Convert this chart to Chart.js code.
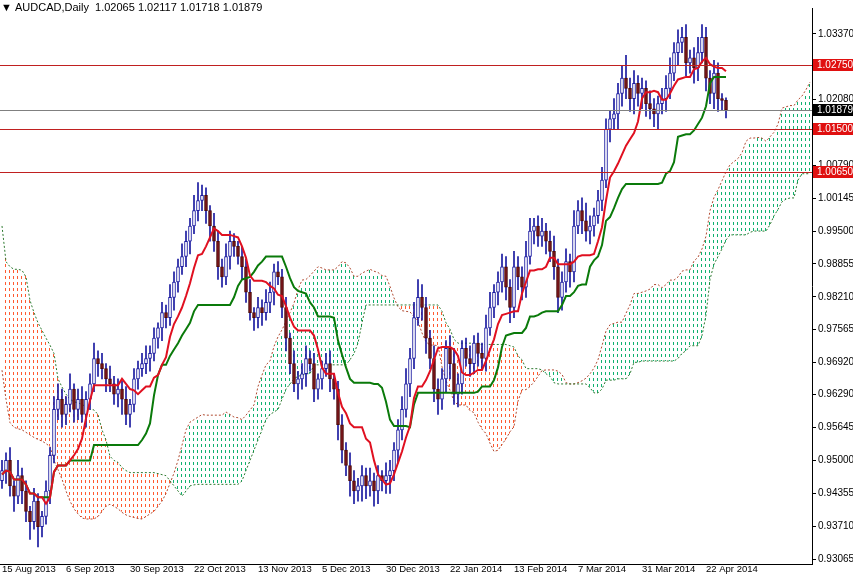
<!DOCTYPE html>
<html lang="en">
<head>
<meta charset="UTF-8">
<title>AUDCAD Daily</title>
<script src="https://cdn.jsdelivr.net/npm/chart.js@4"></script>
<style>
  html, body { margin: 0; padding: 0; background: #fff; }
  #wrap { width: 853px; height: 578px; }
</style>
</head>
<body>
<div id="wrap"><canvas id="chart"></canvas></div>
<script>
// daily closes, AUDCAD, 15 Aug 2013 .. end Apr 2014
var closes = [
  0.9480,0.9500,0.9450,0.9430,0.9470, 0.9440,0.9400,0.9380,0.9420,0.9370,
  0.9390,0.9440,0.9510,0.9600,0.9620, 0.9590,0.9610,0.9640,0.9600,0.9620,
  0.9590,0.9620,0.9650,0.9700,0.9690, 0.9680,0.9660,0.9650,0.9630,0.9640,
  0.9620,0.9590,0.9610,0.9660,0.9680, 0.9690,0.9700,0.9710,0.9740,0.9760,
  0.9790,0.9780,0.9820,0.9850,0.9880, 0.9900,0.9930,0.9960,0.9990,1.0010,
  1.0020,0.9990,0.9960,0.9930,0.9880, 0.9860,0.9900,0.9930,0.9920,0.9900,
  0.9880,0.9830,0.9790,0.9780,0.9800, 0.9790,0.9810,0.9830,0.9870,0.9860,
  0.9800,0.9740,0.9690,0.9650,0.9660, 0.9670,0.9700,0.9690,0.9640,0.9660,
  0.9680,0.9690,0.9660,0.9640,0.9570, 0.9520,0.9490,0.9460,0.9440,0.9450,
  0.9470,0.9450,0.9460,0.9440,0.9470, 0.9460,0.9470,0.9480,0.9520,0.9560,
  0.9600,0.9650,0.9700,0.9780,0.9820, 0.9800,0.9740,0.9700,0.9640,0.9620,
  0.9660,0.9720,0.9690,0.9630,0.9650, 0.9720,0.9700,0.9690,0.9730,0.9710,
  0.9700,0.9760,0.9800,0.9830,0.9850, 0.9880,0.9840,0.9800,0.9880,0.9860,
  0.9840,0.9900,0.9950,0.9960,0.9940, 0.9950,0.9930,0.9910,0.9880,0.9820,
  0.9850,0.9890,0.9870,0.9960,0.9990, 0.9970,0.9950,0.9960,0.9980,1.0010,
  1.0050,1.0150,1.0170,1.0180,1.0220, 1.0250,1.0230,1.0210,1.0240,1.0220,
  1.0230,1.0200,1.0190,1.0180,1.0200, 1.0210,1.0230,1.0260,1.0300,1.0320,
  1.0330,1.0280,1.0290,1.0270,1.0300, 1.0330,1.0250,1.0220,1.0260,1.0210,
  1.02065,1.01879
];
var firstOpen = 0.9460;
// upper / lower wick lengths in pips
var upperWick = [
  20,15,25,10,30, 15,20,10,25,15, 10,20,15,25,30, 20,15,30,10,20,
  25,15,20,30,15, 20,10,25,15,20, 15,25,10,20,15, 20,25,15,20,10,
  20,15,25,20,15, 25,20,15,30,35, 20,15,10,25,20, 15,25,20,15,10,
  20,15,25,10,20, 15,25,20,15,20, 15,20,10,25,15, 20,25,15,20,10,
  15,20,25,10,15, 20,15,25,20,15, 20,15,25,15,20, 10,25,20,15,20,
  25,30,20,30,35, 25,20,15,25,20, 20,15,25,30,20, 15,20,25,15,20,
  20,25,30,15,20, 25,20,15,30,20, 20,30,25,15,20, 25,15,20,30,15,
  20,25,15,30,20, 25,35,20,15,20, 25,20,15,30,20, 25,45,20,25,15,
  20,15,25,20,15, 20,25,30,20,25, 20,25,15,20,30, 25,20,15,25,20,
  10,5
];
var lowerWick = [
  15,25,20,30,15, 25,20,35,15,40, 20,15,25,15,20, 25,20,15,25,20,
  15,25,20,15,25, 20,25,15,20,25, 30,20,25,15,20, 15,20,25,15,20,
  25,20,15,25,20, 15,20,25,15,20, 20,25,30,20,25, 20,15,25,20,15,
  25,20,15,25,20, 25,15,20,25,15, 20,25,20,15,30, 20,25,15,25,20,
  20,15,25,20,30, 25,20,30,25,20, 30,25,20,30,25, 20,25,35,20,25,
  20,15,25,20,15, 25,30,20,25,30, 20,25,30,20,25, 20,15,25,20,25,
  20,25,15,20,25, 20,25,30,20,25, 25,20,15,25,20, 20,25,20,25,30,
  25,20,30,20,15, 25,20,25,20,15, 20,15,25,20,30, 25,20,25,30,25,
  30,25,20,25,30, 20,25,20,15,25, 20,25,20,30,25, 20,25,20,30,25,
  20,16
];
// leading senkou spans (from history before the visible window)
var spanALead = [
  0.9677,0.9620,0.9574,0.9565,0.9562,0.9560,0.9555,0.9550,0.9545,0.9541,
  0.9538,0.9533,0.9527,0.9500,0.9482,0.9463,0.9440,0.9420,0.9405,0.9395,
  0.9387,0.9385,0.9385,0.9385,0.9390,0.9400,0.9410,0.9414,0.9410,0.9405,
  0.9398,0.9393,0.9390,0.9388,0.9386,0.9385,0.9390,0.9395,0.9400,0.9410,
  0.9420,0.9435,0.9455,0.9475,0.9500,0.9530,0.9560,0.9575,0.9580,0.9585,
  0.9590
];
var spanBLead = [
  0.9960,0.9890,0.9880,0.9875,0.9875,0.9873,0.9860,0.9814,0.9790,0.9770,
  0.9755,0.9740,0.9726,0.9710,0.9660,0.9644,0.9630,0.9620,0.9615,0.9613,
  0.9610,0.9605,0.9600,0.9599,0.9590,0.9560,0.9540,0.9508,0.9500,0.9496,
  0.9486,0.9480,0.9476,0.9476,0.9476,0.9476,0.9476,0.9476,0.9476,0.9474,
  0.9472,0.9470,0.9460,0.9450,0.9440,0.9430,0.9440,0.9450,0.9452,0.9453,
  0.9453,0.9453,0.9453,0.9453,0.9453,0.9453,0.9453,0.9453,0.9453,0.9453,
  0.9460,0.9480,0.9500,0.9520,0.9540,0.9560,0.9580,0.9590,0.9595,0.9600,
  0.9620,0.9640,0.9650,0.9660,0.9665,0.9667,0.9670,0.9670
];
var tickLabels = ['15 Aug 2013','6 Sep 2013','30 Sep 2013','22 Oct 2013','13 Nov 2013','5 Dec 2013',
  '30 Dec 2013','22 Jan 2014','13 Feb 2014','7 Mar 2014','31 Mar 2014','22 Apr 2014'];
var shownTicks = [1.03370,1.02080,1.00790,1.00145,0.99500,0.98855,0.98210,
  0.97565,0.96920,0.96290,0.95645,0.95000,0.94355,0.93710,0.93065];
var levels = [1.02750, 1.01500, 1.00650];
var lastPrice = 1.01879;

var n = closes.length, shift = 26, total = n + shift, visible = 203;
var opens = [], highs = [], lows = [];
for (var i = 0; i < n; i++) {
  var o = i === 0 ? firstOpen : closes[i - 1];
  opens.push(o);
  highs.push(Math.max(o, closes[i]) + upperWick[i] / 10000);
  lows.push(Math.min(o, closes[i]) - lowerWick[i] / 10000);
}
function mid(i, len) {
  var s = Math.max(0, i - len + 1), hh = -1, ll = 9;
  for (var j = s; j <= i; j++) { hh = Math.max(hh, highs[j]); ll = Math.min(ll, lows[j]); }
  return (hh + ll) / 2;
}
var labels = [], tenkan = [], kijun = [], spanA = [], spanB = [];
for (var k = 0; k < total; k++) {
  labels.push(k);
  tenkan.push(k < n ? mid(k, 9) : null);
  kijun.push(k < n ? mid(k, 26) : null);
  spanA.push(k < spanALead.length ? spanALead[k] : (mid(k - shift, 9) + mid(k - shift, 26)) / 2);
  spanB.push(k < spanBLead.length ? spanBLead[k] : mid(k - shift, 52));
}

var wicks = [], bodies = [], bodyBg = [], bodyBorder = [];
for (var i = 0; i < n; i++) {
  wicks.push([lows[i], highs[i]]);
  bodies.push([opens[i], closes[i]]);
  var up = closes[i] >= opens[i];
  bodyBg.push(up ? '#ffffff' : '#7a1515');
  bodyBorder.push(up ? '#1a1aa0' : '#4a0a0a');
}

// dotted kumo, drawn under the datasets
var kumo = {
  id: 'kumo',
  beforeDatasetsDraw: function(chart) {
    var ctx = chart.ctx, xs = chart.scales.x, ys = chart.scales.y, a = chart.chartArea;
    ctx.save();
    ctx.beginPath(); ctx.rect(a.left, a.top, a.right - a.left, a.bottom - a.top); ctx.clip();
    var step = xs.getPixelForValue(1) - xs.getPixelForValue(0);
    for (var px = Math.floor(a.left) + 1; px < a.right; px += 4) {
      var f = (px - xs.getPixelForValue(0)) / step;
      var k0 = Math.floor(f);
      if (k0 < 0 || k0 + 1 >= total) continue;
      var t = f - k0;
      var va = spanA[k0] + (spanA[k0 + 1] - spanA[k0]) * t;
      var vb = spanB[k0] + (spanB[k0 + 1] - spanB[k0]) * t;
      var y1 = ys.getPixelForValue(Math.max(va, vb)), y2 = ys.getPixelForValue(Math.min(va, vb));
      ctx.fillStyle = va >= vb ? '#10b070' : '#ff5a30';
      for (var py = Math.ceil(y1 / 6) * 6; py < y2; py += 6) {
        ctx.fillRect(px, py, 1, Math.min(3, y2 - py));
      }
    }
    ctx.restore();
  }
};

var overlay = {
  id: 'overlay',
  afterDatasetsDraw: function(chart) {
    var ctx = chart.ctx, y = chart.scales.y, a = chart.chartArea;
    ctx.save();
    function line(v, col) {
      var py = Math.round(y.getPixelForValue(v)) + 0.5;
      ctx.strokeStyle = col; ctx.lineWidth = 1;
      ctx.beginPath(); ctx.moveTo(a.left, py); ctx.lineTo(a.right, py); ctx.stroke();
    }
    function box(v, bg) {
      var py = Math.round(y.getPixelForValue(v));
      ctx.fillStyle = bg;
      ctx.fillRect(a.right + 1, py - 6, 853 - a.right, 12);
      ctx.fillStyle = '#fff';
      ctx.font = '10px "Liberation Sans"';
      ctx.textBaseline = 'middle';
      ctx.fillText(v.toFixed(5), a.right + 5, py);
    }
    levels.forEach(function(v) { line(v, '#c02020'); });
    line(lastPrice, '#808080');
    levels.forEach(function(v) { box(v, '#e01010'); });
    box(lastPrice, '#000000');
    ctx.fillStyle = '#000';
    ctx.font = '11px "Liberation Sans"';
    ctx.textBaseline = 'middle';
    ctx.fillText('\u25BC', 1, 8);
    ctx.fillText('AUDCAD,Daily  1.02065 1.02117 1.01718 1.01879', 15, 8);
    ctx.restore();
  }
};

new Chart(document.getElementById('chart'), {
  type: 'bar',
  data: {
    labels: labels,
    datasets: [
      { type: 'line', label: 'Senkou A', data: spanA, borderColor: '#b04a30', borderWidth: 1,
        borderDash: [2, 2], pointRadius: 0, order: 6, fill: false },
      { type: 'line', label: 'Senkou B', data: spanB, borderColor: '#2e7a30', borderWidth: 1,
        borderDash: [2, 2], pointRadius: 0, order: 5, fill: false },
      { label: 'wick', data: wicks, backgroundColor: '#1a1aa0', barThickness: 1,
        grouped: false, order: 3 },
      { label: 'body', data: bodies, backgroundColor: bodyBg, borderColor: bodyBorder,
        borderWidth: 1, borderSkipped: false, barThickness: 3, minBarLength: 1,
        grouped: false, order: 2 },
      { type: 'line', label: 'Kijun', data: kijun, borderColor: '#0a7a0a', borderWidth: 2,
        pointRadius: 0, order: 1 },
      { type: 'line', label: 'Tenkan', data: tenkan, borderColor: '#e01020', borderWidth: 2,
        pointRadius: 0, order: 0 }
    ]
  },
  options: {
    responsive: true,
    maintainAspectRatio: false,
    animation: false,
    layout: { padding: 0 },
    plugins: { legend: { display: false }, tooltip: { enabled: false } },
    scales: {
      x: {
        min: 0, max: visible - 1,
        grid: { display: false, tickLength: 0 },
        border: { color: '#000' },
        afterFit: function(s) { s.height = 14; },
        ticks: {
          autoSkip: false, maxRotation: 0, align: 'start', padding: 0,
          color: '#000', font: { family: 'Liberation Sans', size: 9.5 },
          callback: function(v, idx) { return v % 16 === 0 && v / 16 < tickLabels.length ? tickLabels[v / 16] : ''; }
        }
      },
      y: {
        position: 'right',
        min: 0.92967, max: 1.03877,
        grid: { drawOnChartArea: false, tickLength: 4, color: '#000' },
        border: { color: '#000' },
        afterFit: function(s) { s.width = 41; },
        afterBuildTicks: function(s) { s.ticks = shownTicks.map(function(v) { return { value: v }; }); },
        ticks: {
          padding: 2, color: '#000', font: { family: 'Liberation Sans', size: 10 },
          callback: function(v) { return v.toFixed(5); }
        }
      }
    }
  },
  plugins: [kumo, overlay]
});
</script>
</body>
</html>
